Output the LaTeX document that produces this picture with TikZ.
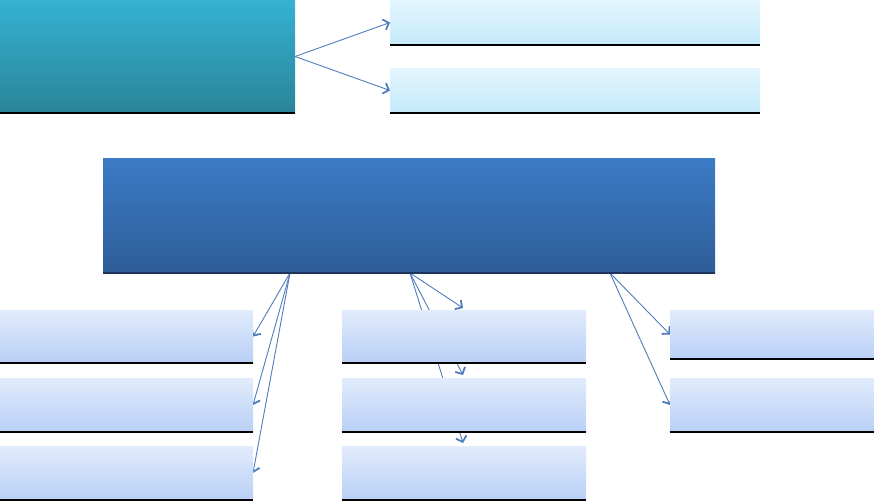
\documentclass[tikz,border=0pt]{standalone}
\usetikzlibrary{arrows.meta}
\definecolor{hdtop}{RGB}{53,178,210}
\definecolor{hdbot}{RGB}{42,132,152}
\definecolor{bgtop}{RGB}{60,123,198}
\definecolor{bgbot}{RGB}{46,93,152}
\definecolor{bgline}{RGB}{30,52,92}
\definecolor{cytop}{RGB}{228,246,254}
\definecolor{cybot}{RGB}{196,233,250}
\definecolor{pbtop}{RGB}{226,236,252}
\definecolor{pbbot}{RGB}{184,207,246}
\definecolor{lnblue}{RGB}{79,125,185}
\pgfdeclarelayer{background}
\pgfsetlayers{background,main}

\begin{document}
\begin{tikzpicture}[x=1pt, y=-1pt,
  >={Straight Barb[length=5pt,width=11pt,line width=1.8pt]},
  box/.style={rectangle, anchor=north west, inner sep=0pt, outer sep=0pt},
  cyanbox/.style={box, top color=cytop, bottom color=cybot},
  palebox/.style={box, top color=pbtop, bottom color=pbbot},
  link/.style={->, draw=lnblue, line width=0.9pt},
  base/.style={line width=2pt, black}]
  \useasboundingbox (0,0) rectangle (874,501);
  % top row
  \node[box, top color=hdtop, bottom color=hdbot, minimum width=295pt, minimum height=113pt] (head) at (0,0) {};
  \node[cyanbox, minimum width=370pt, minimum height=45pt] (t1) at (390,0) {};
  \node[cyanbox, minimum width=370pt, minimum height=45pt] (t2) at (390,68) {};
  % main box
  \node[box, top color=bgtop, bottom color=bgbot, minimum width=612pt, minimum height=115pt] (big) at (103,158) {};
  \coordinate (b1) at (290,273);
  \coordinate (b2) at (410,273);
  \coordinate (b3) at (610,273);
  % lower columns
  \node[palebox, minimum width=253pt, minimum height=53pt] (l1) at (0,310) {};
  \node[palebox, minimum width=253pt, minimum height=54pt] (l2) at (0,378) {};
  \node[palebox, minimum width=253pt, minimum height=54pt] (l3) at (0,446) {};
  \node[palebox, minimum width=244pt, minimum height=53pt] (m1) at (342,310) {};
  \node[palebox, minimum width=244pt, minimum height=54pt] (m2) at (342,378) {};
  \node[palebox, minimum width=244pt, minimum height=54pt] (m3) at (342,446) {};
  \node[palebox, minimum width=204pt, minimum height=49pt] (r1) at (670,310) {};
  \node[palebox, minimum width=204pt, minimum height=54pt] (r2) at (670,378) {};
  \coordinate (mt1) at (463,308);
  \coordinate (mt2) at (463,375);
  \coordinate (mt3) at (463,443);
  % bottom rules
  \draw[base] (head.south west) -- (head.south east);
  \foreach \n in {t1,t2,l1,l2,l3,m1,m2,m3,r1,r2}
    \draw[base] (\n.south west) -- (\n.south east);
  \draw[line width=1.4pt, bgline] (big.south west) -- (big.south east);
  % connectors
  \begin{pgfonlayer}{background}
    \draw[link] (head.east) -- (t1.west);
    \draw[link] (head.east) -- (t2.west);
    \foreach \n in {l1,l2,l3}
      \draw[link] (b1) -- (\n.east);
    \foreach \n in {mt1,mt2,mt3}
      \draw[link] (b2) -- (\n);
    \foreach \n in {r1,r2}
      \draw[link] (b3) -- (\n.west);
  \end{pgfonlayer}
\end{tikzpicture}
\end{document}
